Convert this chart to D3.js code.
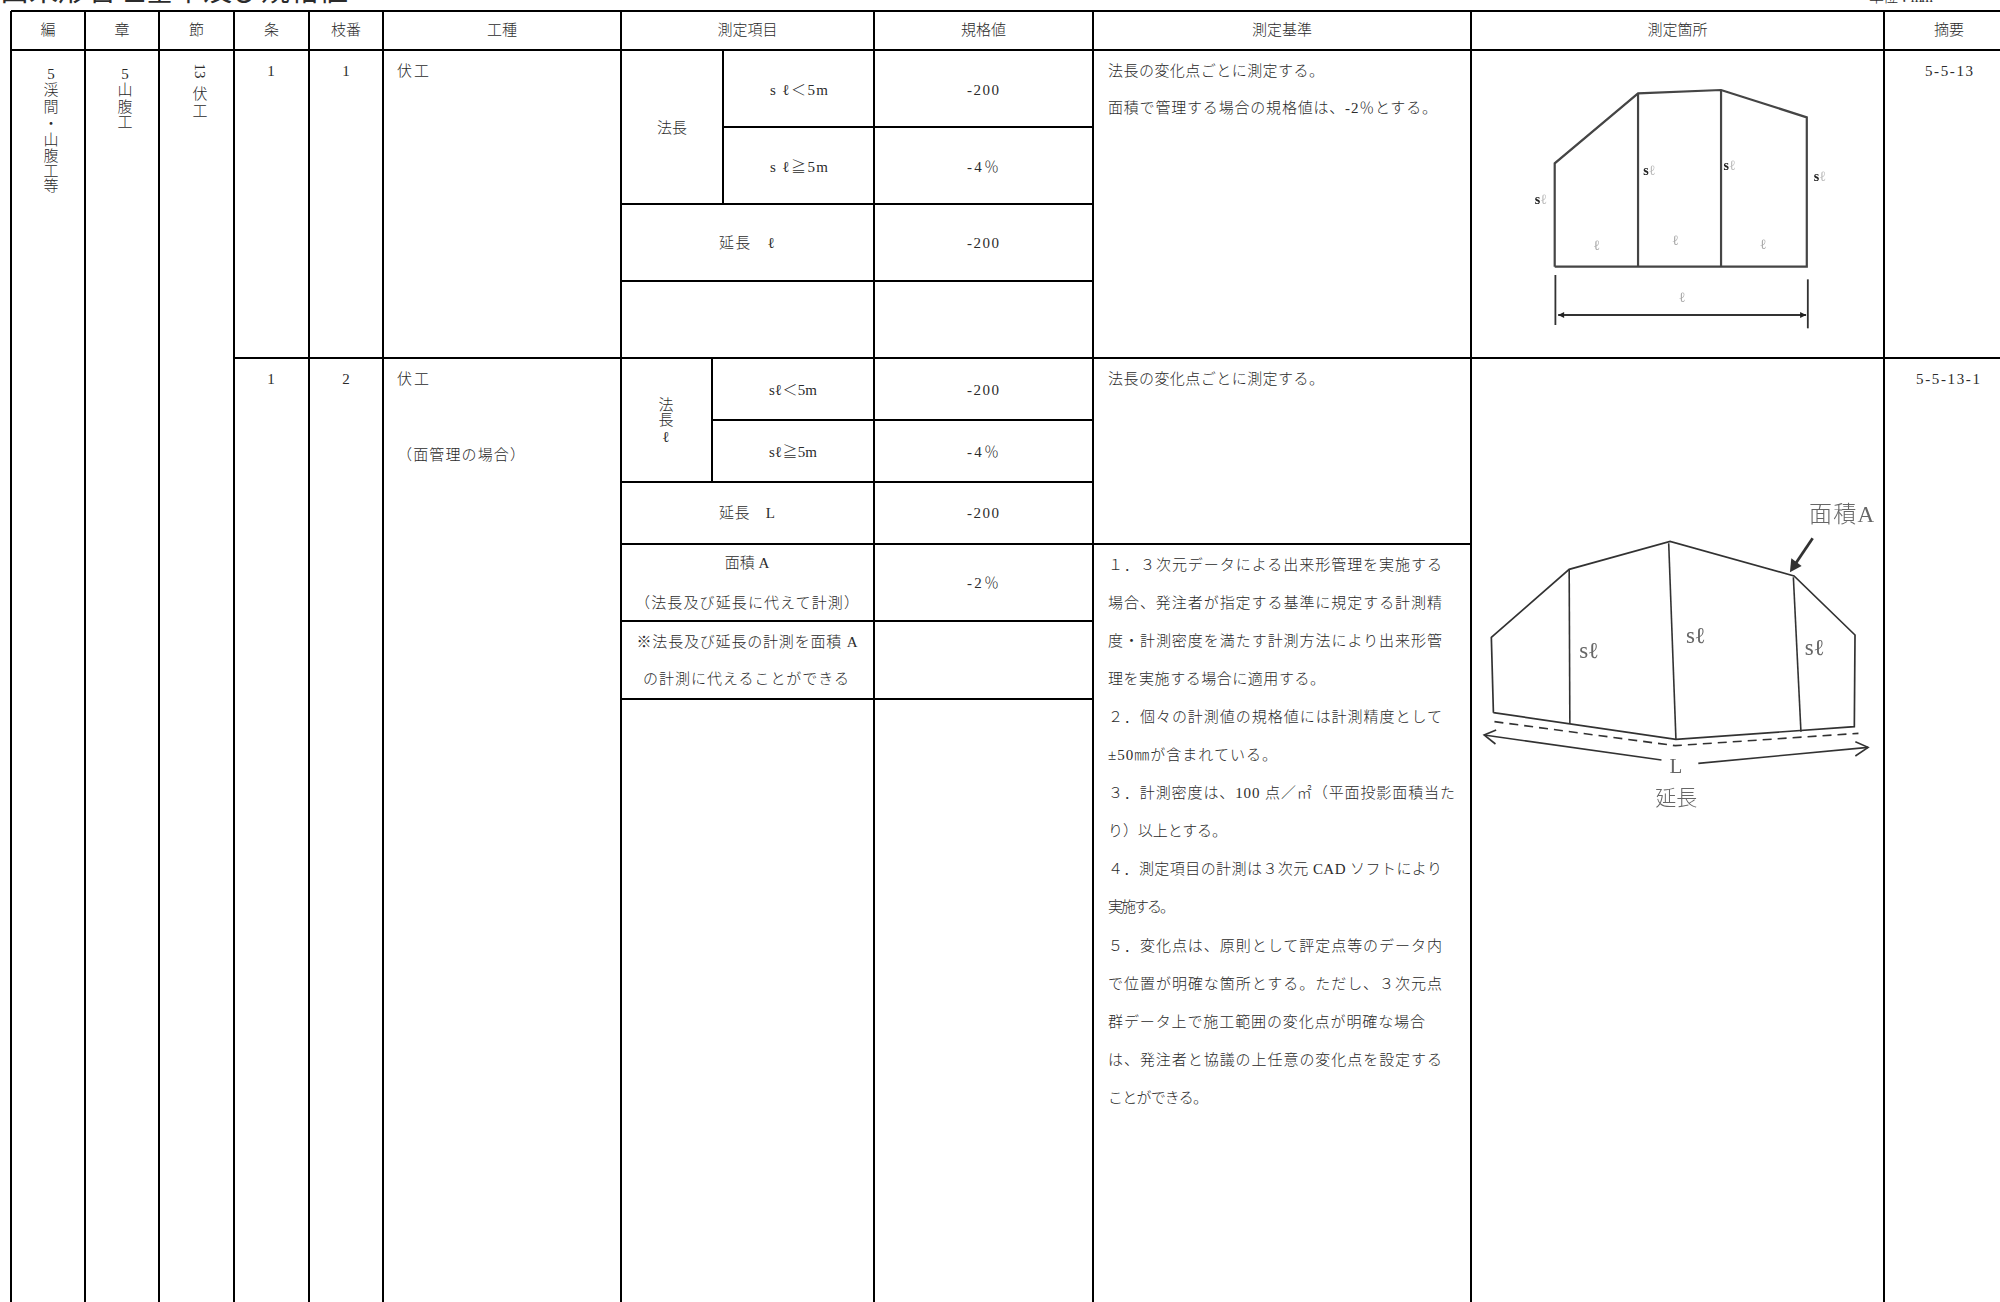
<!DOCTYPE html>
<html lang="ja">
<head>
<meta charset="utf-8">
<title>出来形管理基準及び規格値</title>
<script src="https://cdn.jsdelivr.net/npm/d3@7"></script>
<style>
	html, body { margin: 0; padding: 0; background: #fff; overflow: hidden; }
	svg { display: block; }
	text { font-family: "Liberation Serif", "Noto Sans CJK JP", serif; font-weight: 300; fill: #2b2b2b; }
</style>
</head>
<body>
<svg id="sheet" width="2000" height="1302"></svg>
<script>
// table content
const titleText = "出来形管理基準及び規格値";
const unitText = "単位：mm";
const headerLabels = ["編", "章", "節", "条", "枝番", "工種", "測定項目", "規格値", "測定基準", "測定箇所", "摘要"];
const volumeChars = ["5", "渓", "間", "・", "山", "腹", "工", "等"];
const chapterChars = ["5", "山", "腹", "工"];
const sectionChars = ["13", "伏", "工"];
const clauseNumbers = ["1", "1"];
const branchNumbers = ["1", "2"];
const workNames = ["伏工", "伏工", "（面管理の場合）"];
const slopeLabelA = "法長";
const slopeCharsB = ["法", "長", "ℓ"];
const itemLabelsA = ["s ℓ＜5m", "s ℓ≧5m", "延長　ℓ"];
const itemLabelsB = ["sℓ＜5m", "sℓ≧5m", "延長　L", "面積 A", "（法長及び延長に代えて計測）", "※法長及び延長の計測を面積 A", "の計測に代えることができる"];
const specValuesA = ["-200", "-4％", "-200"];
const specValuesB = ["-200", "-4％", "-200", "-2％"];
const criteriaA = ["法長の変化点ごとに測定する。", "面積で管理する場合の規格値は、-2％とする。"];
const criteriaB = ["法長の変化点ごとに測定する。"];
const criteriaC = [
	"１．３次元データによる出来形管理を実施する",
	"場合、発注者が指定する基準に規定する計測精",
	"度・計測密度を満たす計測方法により出来形管",
	"理を実施する場合に適用する。",
	"２．個々の計測値の規格値には計測精度として",
	"±50㎜が含まれている。",
	"３．計測密度は、100 点／㎡（平面投影面積当た",
	"り）以上とする。",
	"４．測定項目の計測は３次元 CAD ソフトにより",
	"実施する。",
	"５．変化点は、原則として評定点等のデータ内",
	"で位置が明確な箇所とする。ただし、３次元点",
	"群データ上で施工範囲の変化点が明確な場合",
	"は、発注者と協議の上任意の変化点を設定する",
	"ことができる。"
];
const referenceCodes = ["5-5-13", "5-5-13-1"];

// sketch, in the units of the sketch itself
const sketchAOutline = [[275, 800], [275, 490], [517, 280], [758, 270], [1007, 352], [1007, 800]];
const sketchADividers = [[[517, 280], [517, 800]], [[758, 270], [758, 800]]];
const sketchATicks = [[[277, 825], [277, 975]], [[1010, 838], [1010, 985]]];
const sketchASpan = [[285, 945], [1005, 945]];
const sketchASlopeMarks = [[235, 597], [550, 510], [783, 495], [1045, 527]];
const sketchALengthMarks = [[397, 735], [625, 722], [880, 732], [645, 893]];

const sketchBOutline = [[97, 698], [91, 472], [317, 268], [610, 184], [970, 288], [1147, 465], [1145, 740], [627, 778]];
const sketchBDividers = [[[317, 268], [319, 732]], [[606, 190], [627, 778]], [[968, 292], [990, 755]]];
const sketchBDashes = [[100, 725], [625, 797], [1157, 760]];
const sketchBLengthLeft = [[585, 840], [70, 765]];
const sketchBLengthRight = [[692, 850], [1185, 802]];
const sketchBHeadLeft = [[105, 750], [70, 765], [103, 792]];
const sketchBHeadRight = [[1148, 785], [1185, 802], [1148, 828]];
const sketchBPointer = [[1024, 175], [975, 250]];
const sketchBPointerHead = [[958, 277], [962, 235], [992, 258]];
const sketchBSlopeMarks = [[375, 510], [685, 465], [1030, 503]];

// layout, keyed by the column or row that starts at that line
const colKeys = ["vol", "chap", "sec", "clause", "branch", "work", "item", "spec", "crit", "site", "note", "edge"];
const colX = d3.scaleOrdinal().domain(colKeys).range([11, 85, 159, 234, 309, 383, 621, 874, 1093, 1471, 1884, 2014]);
const rowKeys = ["top", "head", "a1", "a2", "a3", "b0", "b1", "b2", "b3", "b4", "b5", "end"];
const rowY = d3.scaleOrdinal().domain(rowKeys).range([11, 50, 127, 204, 281, 358, 420, 482, 544, 621, 699, 1302]);
const textStep = d3.scaleLinear().domain([0, 1]).range([564.5, 602.6]);

const svg = d3.select("#sheet");
const mid = (a, b) => (colX(a) + colX(b)) / 2;

// grid
const verticals = colKeys.slice(0, 11).map(k => ({ x1: colX(k), x2: colX(k), y1: rowY("top"), y2: rowY("end") }));
const horizontals = [
	[colX("vol"), 2000, "top"], [colX("vol"), 2000, "head"],
	[723, colX("crit"), "a1"], [colX("item"), colX("crit"), "a2"], [colX("item"), colX("crit"), "a3"],
	[colX("clause"), 2000, "b0"], [712, colX("crit"), "b1"], [colX("item"), colX("crit"), "b2"],
	[colX("item"), colX("site"), "b3"], [colX("item"), colX("crit"), "b4"], [colX("item"), colX("crit"), "b5"]
].map(([a, b, r]) => ({ x1: a, x2: b, y1: rowY(r), y2: rowY(r) }));
const innerVerticals = [
	{ x1: 723, x2: 723, y1: rowY("head"), y2: rowY("a2") },
	{ x1: 712, x2: 712, y1: rowY("b0"), y2: rowY("b2") }
];

svg.append("g").attr("class", "grid")
	.selectAll("line")
	.data(verticals.concat(horizontals, innerVerticals))
	.join("line")
	.attr("x1", d => d.x1).attr("x2", d => d.x2)
	.attr("y1", d => d.y1).attr("y2", d => d.y2)
	.attr("stroke", "#000")
	.attr("stroke-width", 2)
	.attr("shape-rendering", "crispEdges");

// helper for every text in the table
const labels = svg.append("g").attr("class", "labels");
function label(str, x, y, opts) {
	opts = opts || {};
	const t = labels.append("text")
		.text(str)
		.attr("x", x)
		.attr("y", y)
		.attr("dominant-baseline", "central")
		.attr("text-anchor", opts.anchor || "middle")
		.style("font-size", (opts.size || 15) + "px");
	if (opts.fit) t.attr("textLength", opts.fit).attr("lengthAdjust", "spacing");
	return t;
}

// title and unit sit partly above the sheet, as in the scan
label(titleText, 0, -9, { anchor: "start", size: 29, fit: 348 }).style("font-weight", 400);
label(unitText, 1869, -3, { anchor: "start", size: 15, fit: 64 });

// header row
headerLabels.forEach((d, i) => label(d, mid(colKeys[i], colKeys[i + 1]), 30));

// stacked characters in the first three columns
const volumeY = [74, 90, 107, 124, 140, 156, 171, 186];
volumeChars.forEach((d, i) => label(d, 51, volumeY[i]));
const chapterY = [74, 90, 107, 122];
chapterChars.forEach((d, i) => label(d, 125, chapterY[i]));
label(sectionChars[0], 200, 71).attr("transform", "rotate(90 200 71)");
label(sectionChars[1], 200, 94);
label(sectionChars[2], 200, 111);

// 条 枝番 工種
const blockY = [71, 379];
clauseNumbers.forEach((d, i) => label(d, 271, blockY[i]));
branchNumbers.forEach((d, i) => label(d, 346, blockY[i]));
label(workNames[0], 397, 71, { anchor: "start", fit: 32 });
label(workNames[1], 397, 379, { anchor: "start", fit: 32 });
label(workNames[2], 397, 455, { anchor: "start", fit: 128 });

// 測定項目, first block
label(slopeLabelA, 672, 128);
[[799, 90], [799, 167], [747, 243]].forEach((p, i) => label(itemLabelsA[i], p[0], p[1], { fit: [58, 58, 56][i] }));
// 測定項目, second block
[405, 420, 437].forEach((y, i) => label(slopeCharsB[i], 666, y));
const itemPlaces = [[793, 390], [793, 452], [747, 513], [747, 563], [747, 603], [747, 642], [746, 679]];
const itemFits = [48, 48, 56, null, 224, 221, 206];
itemLabelsB.forEach((d, i) => label(d, itemPlaces[i][0], itemPlaces[i][1], { fit: itemFits[i] }));

// 規格値
[90, 167, 243].forEach((y, i) => label(specValuesA[i], 983, y, { fit: 32 }));
[390, 452, 513, 583].forEach((y, i) => label(specValuesB[i], 983, y, { fit: 32 }));

// 測定基準
const critX = 1108;
label(criteriaA[0], critX, 71, { anchor: "start", fit: 216 });
label(criteriaA[1], critX, 108, { anchor: "start", fit: 329 });
label(criteriaB[0], critX, 379, { anchor: "start", fit: 216 });
const critRight = [1442, 1442, 1442, 1325, 1442, 1277, 1455, 1227, 1442, 1175, 1442, 1442, 1425, 1442, 1208];
criteriaC.forEach((d, i) => label(d, critX, textStep(i), { anchor: "start", fit: critRight[i] - critX }));

// 摘要
label(referenceCodes[0], 1949, 71, { fit: 48 });
label(referenceCodes[1], 1948, 379, { fit: 64 });

// sketches
const defs = svg.append("defs");
defs.append("filter").attr("id", "soft")
	.append("feGaussianBlur").attr("stdDeviation", 0.55);

const sketchX = d3.scaleLinear().domain([0, 1568]).range([1460, 2000]);
const sketchAY = d3.scaleLinear().domain([0, 1080]).range([0, 360]);
const sketchBY = d3.scaleLinear().domain([0, 1020]).range([480, 820]);

function drawLines(g, yScale, lines, width, color, dash) {
	const line = d3.line().x(d => sketchX(d[0])).y(d => yScale(d[1]));
	g.selectAll(null)
		.data(lines)
		.join("path")
		.attr("d", d => line(d))
		.attr("fill", "none")
		.attr("stroke", color)
		.attr("stroke-width", width)
		.attr("stroke-dasharray", dash || null);
}

const sketchA = svg.append("g").attr("filter", "url(#soft)");
drawLines(sketchA, sketchAY, [sketchAOutline.concat([sketchAOutline[0]])], 2.2, "#444");
drawLines(sketchA, sketchAY, sketchADividers, 2.2, "#444");
drawLines(sketchA, sketchAY, sketchATicks.concat([sketchASpan]), 1.8, "#333");
sketchA.selectAll(".head")
	.data([[[285, 945], 1], [[1005, 945], -1]])
	.join("path")
	.attr("d", d => d3.line()([
		[sketchX(d[0][0]), sketchAY(d[0][1])],
		[sketchX(d[0][0]) + d[1] * 6, sketchAY(d[0][1]) - 3],
		[sketchX(d[0][0]) + d[1] * 6, sketchAY(d[0][1]) + 3]
	]) + "Z")
	.attr("fill", "#222");
sketchASlopeMarks.forEach(p => {
	const t = sketchA.append("text")
		.attr("x", sketchX(p[0])).attr("y", sketchAY(p[1]))
		.attr("dominant-baseline", "central").attr("text-anchor", "middle")
		.style("font-size", "14px");
	t.append("tspan").text("s").style("font-weight", "bold").style("fill", "#222");
	t.append("tspan").text("ℓ").style("fill", "#bbb");
});
sketchALengthMarks.forEach(p => {
	sketchA.append("text").text("ℓ")
		.attr("x", sketchX(p[0])).attr("y", sketchAY(p[1]))
		.attr("dominant-baseline", "central").attr("text-anchor", "middle")
		.style("font-size", "14px").style("fill", "#aaa");
});

const sketchB = svg.append("g").attr("filter", "url(#soft)");
drawLines(sketchB, sketchBY, [sketchBOutline.concat([sketchBOutline[0]])], 1.7, "#333");
drawLines(sketchB, sketchBY, sketchBDividers, 1.6, "#333");
drawLines(sketchB, sketchBY, [sketchBDashes], 1.6, "#333", "9 6");
drawLines(sketchB, sketchBY, [sketchBLengthLeft, sketchBLengthRight, sketchBHeadLeft, sketchBHeadRight], 1.6, "#333");
drawLines(sketchB, sketchBY, [sketchBPointer], 2.8, "#333");
sketchB.append("path")
	.attr("d", d3.line().x(d => sketchX(d[0])).y(d => sketchBY(d[1]))(sketchBPointerHead) + "Z")
	.attr("fill", "#333");

function sketchText(str, p, size, fit) {
	const t = sketchB.append("text").text(str)
		.attr("x", sketchX(p[0])).attr("y", sketchBY(p[1]))
		.attr("dominant-baseline", "central").attr("text-anchor", "middle")
		.style("font-size", size + "px").style("fill", "#666");
	if (fit) t.attr("textLength", fit);
}
sketchText("面積A", [1108, 103], 23, 65);
sketchBSlopeMarks.forEach(p => sketchText("sℓ", p, 23));
sketchText("L", [627, 858], 21);
sketchText("延長", [628, 953], 21);
</script>
</body>
</html>
